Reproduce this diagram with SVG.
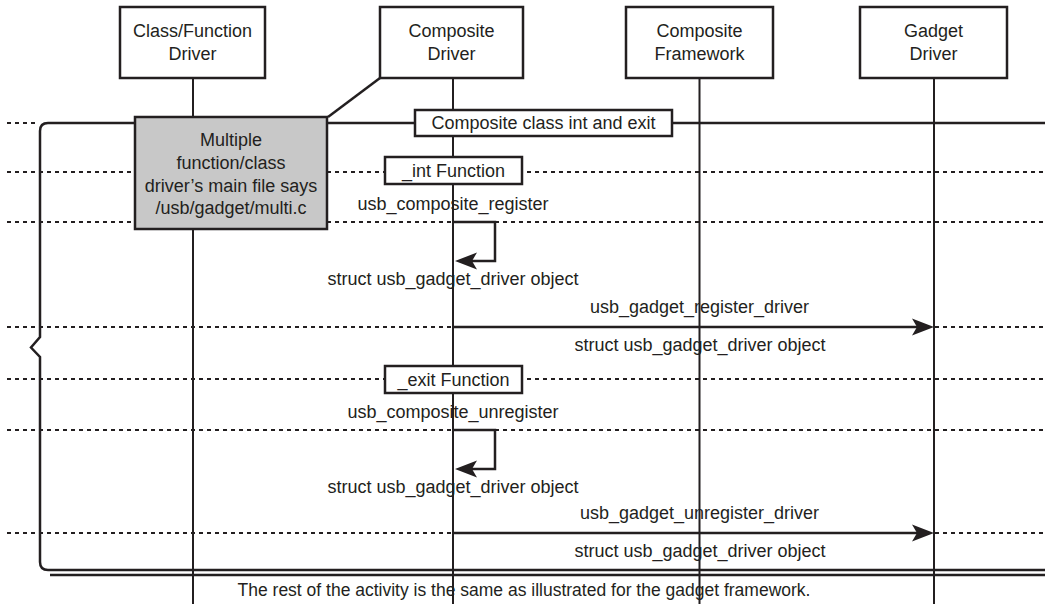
<svg xmlns="http://www.w3.org/2000/svg" width="1049" height="604" viewBox="0 0 1049 604">
<style>
text{font-family:"Liberation Sans",Arial,sans-serif;font-size:18px;fill:#231f20;text-anchor:middle}
.box{fill:#fff;stroke:#231f20;stroke-width:2.5}
.gray{fill:#c8c8c8;stroke:#231f20;stroke-width:2.5}
.life{stroke:#231f20;stroke-width:2;fill:none}
.dot{stroke:#231f20;stroke-width:2;stroke-dasharray:4 4;fill:none}
.solid{stroke:#231f20;stroke-width:2.5;fill:none}
.msg{stroke:#231f20;stroke-width:2.5;fill:none}
.head{fill:#231f20;stroke:none}
</style>
<rect width="1049" height="604" fill="#fff"/>
<g id="dotted-lines">
<line class="dot" x1="7" y1="123" x2="38" y2="123"/>
<line class="dot" x1="7" y1="172" x2="1045" y2="172"/>
<line class="dot" x1="7" y1="222" x2="1045" y2="222"/>
<line class="dot" x1="7" y1="327" x2="1045" y2="327"/>
<line class="dot" x1="7" y1="379" x2="1045" y2="379"/>
<line class="dot" x1="7" y1="430" x2="1045" y2="430"/>
<line class="dot" x1="7" y1="533" x2="1045" y2="533"/>
</g>
<g id="lifelines">
<line class="life" x1="193" y1="78" x2="193" y2="604"/>
<line class="life" x1="453" y1="78" x2="453" y2="604"/>
<line class="life" x1="699.5" y1="78" x2="699.5" y2="604"/>
<line class="life" x1="934" y1="78" x2="934" y2="604"/>
</g>
<g id="frame">
<path class="solid" d="M1045,123 H48 Q40,123 40,131 V337 L31,347.5 L40,357 V562 Q40,570 48,570 H1045"/>
<line class="solid" x1="50" y1="575" x2="1045" y2="575"/>
</g>
<g id="connectors">
<line class="solid" x1="328" y1="117" x2="380" y2="78"/>
<path class="msg" d="M453,222 H495 V261 H470"/>
<path class="head" d="M455,261 L477,252.5 L472,261 L477,269.5 Z"/>
<path class="msg" d="M453,430 H495 V469 H470"/>
<path class="head" d="M455,469 L477,460.5 L472,469 L477,477.5 Z"/>
<line class="msg" x1="453" y1="327" x2="918" y2="327"/>
<path class="head" d="M934,327 L912,318.5 L917,327 L912,335.5 Z"/>
<line class="msg" x1="453" y1="533" x2="918" y2="533"/>
<path class="head" d="M934,533 L912,524.5 L917,533 L912,541.5 Z"/>
</g>
<g id="node-class-function-driver">
<rect class="box" x="120" y="7" width="145" height="71"/>
<text x="192.5" y="37">Class/Function</text>
<text x="192.5" y="60">Driver</text>
</g>
<g id="node-composite-driver">
<rect class="box" x="380" y="7" width="143" height="71"/>
<text x="451.5" y="37">Composite</text>
<text x="451.5" y="60">Driver</text>
</g>
<g id="node-composite-framework">
<rect class="box" x="626" y="7" width="147" height="71"/>
<text x="699.5" y="37">Composite</text>
<text x="699.5" y="60">Framework</text>
</g>
<g id="node-gadget-driver">
<rect class="box" x="860" y="7" width="147" height="71"/>
<text x="933.5" y="37">Gadget</text>
<text x="933.5" y="60">Driver</text>
</g>
<g id="node-note">
<rect class="gray" x="135" y="117" width="192" height="112"/>
<text x="231" y="146">Multiple</text>
<text x="231" y="169">function/class</text>
<text x="231" y="192">driver’s main file says</text>
<text x="231" y="214">/usb/gadget/multi.c</text>
</g>
<g id="node-composite-class">
<rect class="box" x="415" y="110" width="257" height="26"/>
<text x="543.5" y="129">Composite class int and exit</text>
</g>
<g id="node-int-function">
<rect class="box" x="385" y="157" width="137" height="27"/>
<text x="453.5" y="177">_int Function</text>
</g>
<g id="node-exit-function">
<rect class="box" x="385" y="366" width="137" height="27"/>
<text x="453.5" y="386">_exit Function</text>
</g>
<g id="labels">
<text x="453" y="210">usb_composite_register</text>
<text x="453" y="285">struct usb_gadget_driver object</text>
<text x="699.5" y="313">usb_gadget_register_driver</text>
<text x="700" y="351">struct usb_gadget_driver object</text>
<text x="453" y="418">usb_composite_unregister</text>
<text x="453" y="493">struct usb_gadget_driver object</text>
<text x="699.5" y="519">usb_gadget_unregister_driver</text>
<text x="700" y="557">struct usb_gadget_driver object</text>
<text x="524" y="596" style="font-size:17.5px">The rest of the activity is the same as illustrated for the gadget framework.</text>
</g>
</svg>
